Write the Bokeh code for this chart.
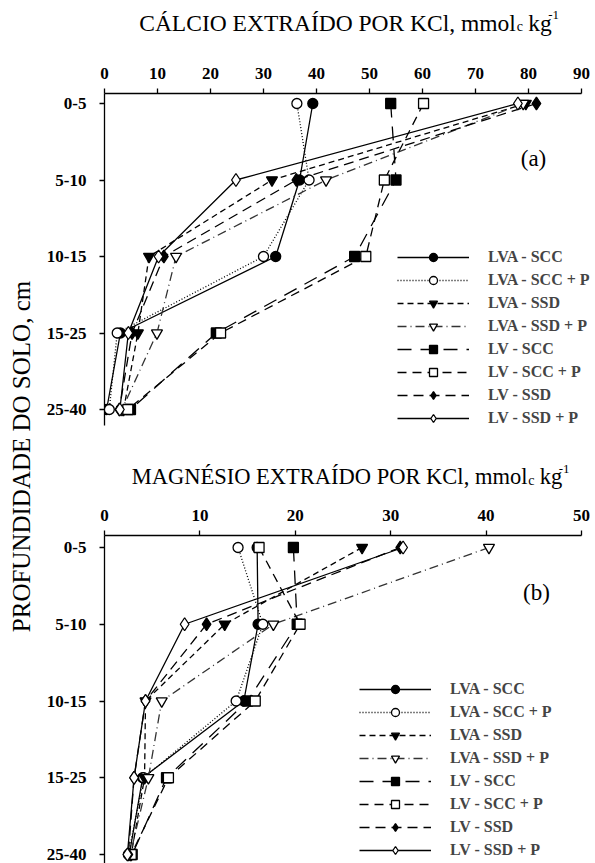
import numpy as np
from bokeh.plotting import figure
from bokeh.models import (Range1d, FixedTicker, Legend, LegendItem, Label,
                          ColumnDataSource)
from bokeh.layouts import row, column
from bokeh.embed import file_html
from bokeh.resources import INLINE

# ---------------- data ----------------
depths = ["0-5", "5-10", "10-15", "15-25", "25-40"]
depth_pos = [0, 1, 2, 3, 4]

series_names = ["LVA - SCC", "LVA - SCC + P", "LVA - SSD", "LVA - SSD + P",
                "LV - SCC", "LV - SCC + P", "LV - SSD", "LV - SSD + P"]

# Calcium (a)
ca_lva_scc   = [39.3, 36.8, 32.3, 3.0, 0.4]
ca_lva_scc_p = [36.3, 38.6, 30.0, 2.4, 0.9]
ca_lva_ssd   = [79.5, 31.6, 8.4, 6.3, 3.6]
ca_lva_ssd_p = [79.0, 41.8, 13.5, 9.9, 3.3]
ca_lv_scc    = [54.0, 55.0, 47.2, 21.1, 4.9]
ca_lv_scc_p  = [60.2, 52.8, 49.3, 21.9, 4.4]
ca_lv_ssd    = [81.5, 36.2, 11.2, 5.2, 2.8]
ca_lv_ssd_p  = [78.0, 24.8, 10.2, 4.5, 2.9]

# Magnesium (b)
mg_lva_scc   = [16.0, 16.1, 14.6, 4.0, 2.6]
mg_lva_scc_p = [14.0, 16.6, 13.8, 4.1, 2.5]
mg_lva_ssd   = [27.0, 12.6, 4.3, 4.2, 2.8]
mg_lva_ssd_p = [40.3, 17.7, 6.0, 4.6, 2.7]
mg_lv_scc    = [19.8, 20.2, 15.0, 6.5, 2.9]
mg_lv_scc_p  = [16.2, 20.5, 15.8, 6.7, 2.8]
mg_lv_ssd    = [31.0, 10.7, 4.3, 3.1, 2.5]
mg_lv_ssd_p  = [31.3, 8.4, 4.3, 3.1, 2.4]

ca_ticks = [0, 10, 20, 30, 40, 50, 60, 70, 80, 90]
mg_ticks = [0, 10, 20, 30, 40, 50]

ca_series = [ca_lva_scc, ca_lva_scc_p, ca_lva_ssd, ca_lva_ssd_p,
             ca_lv_scc, ca_lv_scc_p, ca_lv_ssd, ca_lv_ssd_p]
mg_series = [mg_lva_scc, mg_lva_scc_p, mg_lva_ssd, mg_lva_ssd_p,
             mg_lv_scc, mg_lv_scc_p, mg_lv_ssd, mg_lv_ssd_p]

# ---------------- styles ----------------
styles = [
    dict(marker="circle", size=10, fill="black", dash="solid", lc="black"),
    dict(marker="circle", size=10, fill="white", dash="1 2", lc="black"),
    dict(marker="inverted_triangle", size=11, fill="black", dash="6 4", lc="black"),
    dict(marker="inverted_triangle", size=11, fill="white", dash="9 4 1 4", lc="#333333"),
    dict(marker="square", size=10, fill="black", dash="14 9", lc="black"),
    dict(marker="square", size=10, fill="white", dash="9 6", lc="black"),
    dict(marker="diamond", size=13, fill="black", dash="10 6", lc="black"),
    dict(marker="diamond", size=13, fill="white", dash="solid", lc="black"),
]

SERIF = "Liberation Serif"
PAGE_W = 595
LAB_W = 40
FRAME_L = 104          # page x of the value 0
BORDER_L = FRAME_L - LAB_W
FRAME_W = PAGE_W - FRAME_L


def panel(series, axis_max, px_per_unit, ticks, fig_top_page, frame_top_page,
          frame_bottom_page, y0_page, px_per_depth, axis_bottom_page, legend_loc):
    x_end = FRAME_W / px_per_unit
    y_top = (frame_top_page - y0_page) / px_per_depth
    y_bot = (frame_bottom_page - y0_page) / px_per_depth
    y_axis_end = (axis_bottom_page - y0_page) / px_per_depth
    p = figure(frame_width=FRAME_W, frame_height=frame_bottom_page - frame_top_page,
               x_range=Range1d(0, x_end), y_range=Range1d(y_bot, y_top),
               x_axis_location="above", output_backend="svg",
               toolbar_location=None, min_border_left=BORDER_L,
               min_border_right=0, min_border_top=frame_top_page - fig_top_page,
               min_border_bottom=0)
    p.xgrid.visible = False
    p.ygrid.visible = False
    p.outline_line_color = None
    p.background_fill_color = "white"
    p.border_fill_color = "white"

    p.xaxis.ticker = FixedTicker(ticks=ticks)
    p.xaxis.bounds = (0, axis_max)
    p.yaxis.ticker = FixedTicker(ticks=depth_pos)
    p.yaxis.bounds = (y_top, y_axis_end)
    p.yaxis.major_label_overrides = {i: d for i, d in zip(depth_pos, depths)}
    for ax in (p.xaxis, p.yaxis):
        ax.axis_line_width = 1.3
        ax.axis_line_color = "black"
        ax.major_tick_line_width = 1.3
        ax.major_tick_out = 5
        ax.major_tick_in = 0
        ax.minor_tick_line_color = None
        ax.major_label_text_font = SERIF
        ax.major_label_text_font_style = "bold"
        ax.major_label_text_font_size = "17px"
        ax.major_label_text_color = "black"
    p.xaxis.major_label_standoff = 10
    p.yaxis.major_label_standoff = 13

    items = []
    for name, vals, st in zip(series_names, series, styles):
        src = ColumnDataSource(dict(x=vals, y=depth_pos))
        rl = p.line("x", "y", source=src, line_color=st["lc"], line_width=1.3,
                    line_dash=st["dash"])
        rm = p.scatter("x", "y", source=src, marker=st["marker"], size=st["size"],
                       fill_color=st["fill"], line_color="black", line_width=1.3)
        items.append(LegendItem(label=name, renderers=[rl, rm]))

    leg = Legend(items=items, location=legend_loc, glyph_width=72,
                 glyph_height=20, label_height=20, spacing=3, padding=0,
                 margin=0, border_line_color=None, background_fill_alpha=0,
                 label_text_font=SERIF, label_text_font_style="bold",
                 label_text_font_size="16px", label_standoff=19)
    p.add_layout(leg)
    return p


# top panel: figure page y 50..440, frame top 93, 0-5 at 103, 76.5 px per depth
top = panel(ca_series, 90, 5.3, ca_ticks, 50, 93, 440, 103, 76.5, 425, (293, 12))
# bottom panel: figure page y 500..863, frame top 535, 0-5 at 547
bot = panel(mg_series, 50, 9.54, mg_ticks, 500, 535, 863, 547, 76.75, 863, (255, 3))

top.add_layout(Label(x=(533 - FRAME_L) / 5.3, y=(158 - 103) / 76.5, text="(a)",
                     text_font=SERIF, text_font_size="23px", text_align="center",
                     text_baseline="middle", text_color="black"))
bot.add_layout(Label(x=(536 - FRAME_L) / 9.54, y=(592 - 547) / 76.75, text="(b)",
                     text_font=SERIF, text_font_size="23px", text_align="center",
                     text_baseline="middle", text_color="black"))


def title_fig(page_top, page_bottom, main, end_x, base_y, fs):
    """Title strip whose data coordinates equal page pixels."""
    f = figure(width=PAGE_W - LAB_W, height=page_bottom - page_top,
               x_range=Range1d(LAB_W, PAGE_W), y_range=Range1d(page_bottom, page_top),
               x_axis_type=None, y_axis_type=None, toolbar_location=None,
               output_backend="svg", min_border=0)
    f.xgrid.visible = False
    f.ygrid.visible = False
    f.outline_line_color = None
    common = dict(text_font=SERIF, text_color="black", text_baseline="alphabetic")
    f.add_layout(Label(x=end_x, y=base_y, text=main, text_font_size=f"{fs}px",
                       text_align="right", **common))
    f.add_layout(Label(x=end_x + 1, y=base_y + 4, text="c",
                       text_font_size="14px", text_align="left", **common))
    f.add_layout(Label(x=end_x + 14, y=base_y, text="kg",
                       text_font_size=f"{fs}px", text_align="left", **common))
    f.add_layout(Label(x=end_x + 14 + fs - 1, y=base_y - 8, text="-1",
                       text_font_size="13px", text_align="left", **common))
    return f


t_top = title_fig(0, 50, "CÁLCIO EXTRAÍDO POR KCl, mmol", 505, 22, 23.5)
t_bot = title_fig(440, 500, "MAGNÉSIO EXTRAÍDO POR KCl, mmol", 518, 476, 22.5)

# shared y-axis title strip
lab = figure(width=LAB_W, height=863, x_range=Range1d(0, LAB_W),
             y_range=Range1d(863, 0), x_axis_type=None, y_axis_type=None,
             toolbar_location=None, output_backend="svg", min_border=0)
lab.xgrid.visible = False
lab.ygrid.visible = False
lab.outline_line_color = None
lab.add_layout(Label(x=21, y=456, text="PROFUNDIDADE DO SOLO, cm",
                     angle=np.pi / 2, text_font=SERIF, text_font_size="25px",
                     text_align="center", text_baseline="middle",
                     text_color="black"))

layout = row(lab, column(t_top, top, t_bot, bot, spacing=0), spacing=0)

open("out.html", "w").write(file_html(layout, INLINE))
